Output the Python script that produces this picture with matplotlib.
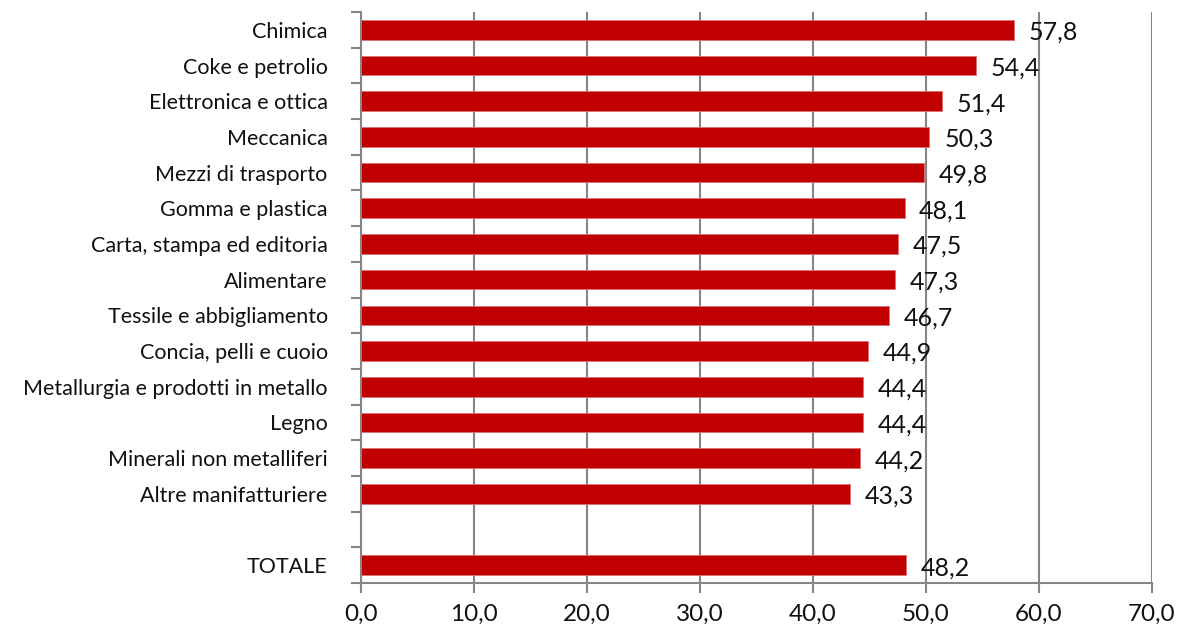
import matplotlib
matplotlib.use("Agg")
import matplotlib.pyplot as plt
import numpy as np

categories = ["Chimica", "Coke e petrolio", "Elettronica e ottica", "Meccanica",
              "Mezzi di trasporto", "Gomma e plastica", "Carta, stampa ed editoria",
              "Alimentare", "Tessile e abbigliamento", "Concia, pelli e cuoio",
              "Metallurgia e prodotti in metallo", "Legno", "Minerali non metalliferi",
              "Altre manifatturiere", "", "TOTALE"]
values = [57.8, 54.4, 51.4, 50.3, 49.8, 48.1, 47.5, 47.3, 46.7, 44.9,
          44.4, 44.4, 44.2, 43.3, None, 48.2]
xticks = [0, 10, 20, 30, 40, 50, 60, 70]

plt.rcParams['font.family'] = ['Lato', 'DejaVu Sans']

fig = plt.figure(figsize=(11.78, 6.29), dpi=100)
ax = fig.add_axes([361/1178, 1-583/629, (1152-361)/1178, (583-12)/629])

grid_c = "#868686"
bar_c = "#C00000"

pos = np.arange(len(categories))
for p, v in zip(pos, values):
    if v is None:
        continue
    ax.barh(p, v, height=0.55, color=bar_c, edgecolor="#E07070", linewidth=0.6, zorder=3)
    ax.text(v + 1.3, p + 0.07, f"{v:.1f}".replace(".", ","), va="center", ha="left",
            fontsize=18, color="#111111", zorder=4)

ax.set_ylim(len(categories) - 0.5, -0.5)
ax.set_xlim(0, 70)
ax.set_yticks(pos)
ax.set_yticklabels(categories, fontsize=15.5, color="#111111")
ax.set_yticks(np.arange(-0.5, len(categories)), minor=True)
ax.tick_params(axis='y', which='major', length=0, pad=24)
ax.tick_params(axis='y', which='minor', length=7, width=1.5, color=grid_c)
ax.set_xticks(xticks)
ax.set_xticklabels([f"{t:.1f}".replace(".", ",") for t in xticks], fontsize=17.5, color="#111111")
ax.tick_params(axis='x', length=7, width=1.5, color=grid_c, pad=8)

ax.grid(axis='x', color=grid_c, linewidth=1.5, zorder=0)
ax.set_axisbelow(True)
for s in ["top", "right"]:
    ax.spines[s].set_visible(False)
for s in ["left", "bottom"]:
    ax.spines[s].set_color(grid_c)
    ax.spines[s].set_linewidth(1.5)

fig.savefig("out.png", dpi=100)
